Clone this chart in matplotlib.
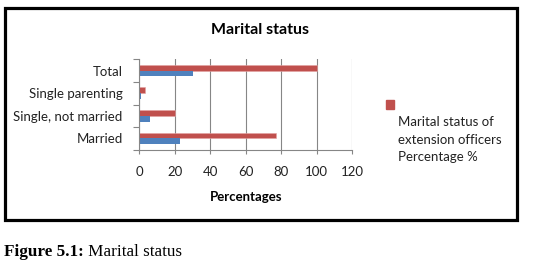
import matplotlib
matplotlib.use("Agg")
import matplotlib.pyplot as plt
from matplotlib.patches import Rectangle
import numpy as np

categories = ["Married", "Single, not married", "Single parenting", "Total"]
percentages = [77, 20, 3, 100]
counts = [23, 6, 1, 30]
x_ticks = [0, 20, 40, 60, 80, 100, 120]

red = "#C0504D"
blue = "#4F81BD"
grey = "#868686"

plt.rcParams["font.family"] = ["Lato", "DejaVu Sans"]

fig = plt.figure(figsize=(5.57, 2.69), dpi=100)
ax = fig.add_axes([0.2501, 0.4435, 0.3824, 0.336])

y = np.arange(len(categories))
h = 0.26
ax.barh(y + h / 2, percentages, height=h, color=red, edgecolor="#E3A3A2", linewidth=0.4)
ax.barh(y - h / 2, counts, height=h, color=blue)

ax.set_xlim(0, 120)
ax.set_ylim(-0.5, len(categories) - 0.5)
ax.set_xticks(x_ticks)
ax.set_xticklabels([str(t) for t in x_ticks], fontsize=9.5, color="#222222")
ax.set_yticks(y)
ax.set_yticklabels(categories, fontsize=9.5, color="#222222")
ax.tick_params(axis="y", length=0, pad=12)
ax.set_yticks(np.arange(-0.5, len(categories)), minor=True)
ax.tick_params(axis="y", which="minor", length=4, color=grey, width=0.8)
ax.tick_params(axis="x", length=3, color=grey, width=0.8, pad=9)

ax.grid(axis="x", color=grey, linewidth=0.8)
ax.set_axisbelow(True)
for side in ["top", "right"]:
    ax.spines[side].set_visible(False)
for side in ["left", "bottom"]:
    ax.spines[side].set_color(grey)
    ax.spines[side].set_linewidth(0.8)

ax.set_xlabel("Percentages", fontsize=9.5, fontweight="bold", labelpad=9)
fig.text(0.467, 0.89, "Marital status", fontsize=11.5, fontweight="bold", ha="center", va="center")

# legend (only the red entry is visible in the original)
fig.patches.append(Rectangle((386 / 557, 1 - 109 / 269), 8 / 557, 9 / 269,
                             transform=fig.transFigure, color=red))
fig.text(398 / 557, 1 - 116 / 269,
         "Marital status of\nextension officers\nPercentage %",
         fontsize=9.5, va="top", ha="left", linespacing=1.55, color="#222222")

# outer frame
fig.patches.append(Rectangle((4.5 / 557, 1 - 219.5 / 269), 512 / 557, 211.5 / 269,
                             transform=fig.transFigure, fill=False,
                             edgecolor="black", linewidth=2.3))

cap = fig.text(4 / 557, 1 - 252 / 269, "Figure 5.1:", fontsize=12.3, fontweight="bold",
               family="Liberation Serif", va="center", ha="left")
ax.annotate(" Marital status", xy=(1, 0.5), xycoords=cap, fontsize=12.3,
            family="Liberation Serif", va="center", ha="left")

fig.savefig("out.png", dpi=100)
